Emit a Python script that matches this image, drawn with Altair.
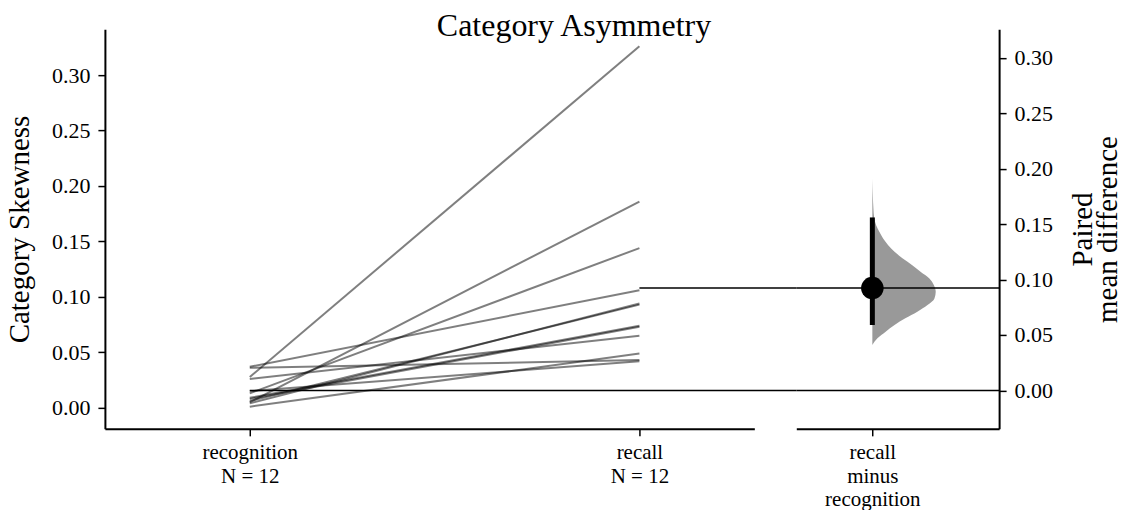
import altair as alt
import pandas as pd

# Paired measurements per participant
conditions = ["recognition", "recall"]
recognition = [0.0277, 0.005, 0.013, 0.037, 0.006, 0.004, 0.008, 0.009, 0.026, 0.001, 0.036, 0.015]
recall = [0.326, 0.186, 0.144, 0.106, 0.093, 0.094, 0.073, 0.074, 0.065, 0.049, 0.043, 0.042]

# Bootstrap summary of the paired mean difference
ci_low, ci_high = 0.059, 0.156
boot_diff = [0.041, 0.047, 0.053, 0.059, 0.065, 0.071, 0.077, 0.083, 0.089, 0.095, 0.101,
             0.107, 0.113, 0.119, 0.125, 0.131, 0.137, 0.143, 0.149, 0.155, 0.165, 0.175, 0.191]
boot_density = [0.0, 0.08, 0.21, 0.35, 0.52, 0.71, 0.87, 0.98, 1.0, 0.97, 0.9,
                0.76, 0.63, 0.48, 0.35, 0.25, 0.17, 0.11, 0.06, 0.03, 0.016, 0.008, 0.0]

FONT = "Liberation Serif"
W_L, W_R, H, GAP = 650, 203, 400, 42

n = len(recognition)
rec_mean = sum(recognition) / n
rcl_mean = sum(recall) / n
diff = rcl_mean - rec_mean

long = pd.DataFrame(
    [{"subject": i, "pos": 0, "value": v} for i, v in enumerate(recognition)]
    + [{"subject": i, "pos": 1, "value": v} for i, v in enumerate(recall)]
)
means = pd.DataFrame({"pos": [0, 1], "mean": [rec_mean, rcl_mean]})
violin = pd.DataFrame({"diff": boot_diff, "density": boot_density})
ref_lines = pd.DataFrame({"val": [0.0, diff]})
est = pd.DataFrame({"diff": [diff], "lo": [ci_low], "hi": [ci_high]})

ticks = [0.0, 0.05, 0.10, 0.15, 0.20, 0.25, 0.30]
left_dom = [-0.019, 0.3414]
right_dom = [left_dom[0] - rec_mean, left_dom[1] - rec_mean]

y_left = alt.Scale(domain=left_dom, nice=False, zero=False)
x_left = alt.Scale(domain=[-0.3718, 1.2949], nice=False, zero=False)
y_right = alt.Scale(domain=right_dom, nice=False, zero=False)
x_right = alt.Scale(domain=[-1.2, 2.0], nice=False, zero=False)

def js_list(items):
    return "[" + ", ".join("'" + s + "'" for s in items) + "]"

left_labels = (
    f"datum.value == 0 ? {js_list([conditions[0], f'N = {n}'])} : "
    f"{js_list([conditions[1], f'N = {n}'])}"
)
right_labels = js_list(f"{conditions[1]} minus {conditions[0]}".split())

x_axis_style = dict(labelLineHeight=23.5, labelPadding=6, labelFlush=False, labelFontSize=21)

slopes = alt.Chart(long).mark_line(color="black", opacity=0.5, strokeWidth=2).encode(
    x=alt.X("pos:Q", scale=x_left, title=None,
            axis=alt.Axis(values=[0, 1], labelExpr=left_labels, **x_axis_style)),
    y=alt.Y("value:Q", scale=y_left, title="Category Skewness",
            axis=alt.Axis(values=ticks, format=".2f", labelPadding=8, titlePadding=17)),
    detail="subject:N",
)
mean_rules = alt.Chart(means).mark_rule(color="black", strokeWidth=1.5).encode(
    x=alt.X("pos:Q", scale=x_left),
    x2=alt.value(W_L + GAP),
    y=alt.Y("mean:Q", scale=y_left),
)
left = alt.layer(slopes, mean_rules).properties(width=W_L, height=H)

dist = alt.Chart(violin).mark_area(color="#999999", orient="horizontal",
                                   interpolate="monotone", opacity=1).encode(
    y=alt.Y("diff:Q", scale=y_right, title=["Paired", "mean difference"],
            axis=alt.Axis(orient="right", values=ticks, format=".2f", labelPadding=8,
                          titleAngle=270, titlePadding=20, titleLineHeight=25)),
    x=alt.X("density:Q", scale=x_right, title=None,
            axis=alt.Axis(values=[0], labelExpr=right_labels, **x_axis_style)),
    x2=alt.datum(0),
)
hlines = alt.Chart(ref_lines).mark_rule(color="black", strokeWidth=1.5).encode(
    x=alt.value(0), x2=alt.value(W_R), y=alt.Y("val:Q", scale=y_right),
)
ci_bar = alt.Chart(est).mark_rule(color="black", strokeWidth=5).encode(
    x=alt.X(datum=0, scale=x_right),
    y=alt.Y("lo:Q", scale=y_right), y2="hi:Q",
)
point = alt.Chart(est).mark_circle(color="black", opacity=1, size=510).encode(
    x=alt.X(datum=0, scale=x_right),
    y=alt.Y("diff:Q", scale=y_right),
)
right = alt.layer(dist, hlines, ci_bar, point).properties(width=W_R, height=H)

chart = alt.hconcat(left, right, spacing=GAP, bounds="flush").resolve_scale(
    x="independent", y="independent"
).properties(
    title=alt.TitleParams("Category Asymmetry", font=FONT, fontSize=32,
                          fontWeight="normal", color="black", anchor="middle",
                          offset=-14, dx=10),
    padding={"left": 5, "top": 10, "right": 0, "bottom": 0},
).configure_view(stroke=None).configure_axis(
    labelFont=FONT, labelFontSize=22, labelColor="black",
    titleFont=FONT, titleFontSize=29, titleFontWeight="normal", titleColor="black",
    domainColor="black", domainWidth=2, tickColor="black", tickWidth=1.5, tickSize=7,
    grid=False,
)

chart.save("out.html", embed_options={"renderer": "svg", "actions": False})
